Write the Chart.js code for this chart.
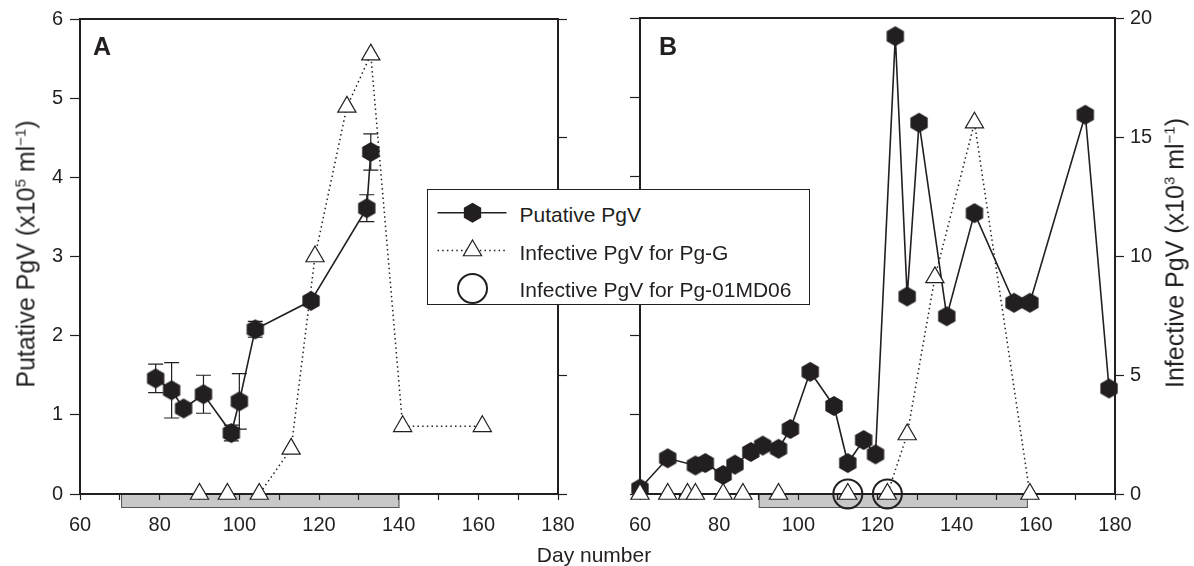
<!DOCTYPE html>
<html lang="en">
<head>
<meta charset="utf-8">
<title>Putative and infective PgV</title>
<script src="https://cdn.jsdelivr.net/npm/chart.js@4.4.1/dist/chart.umd.min.js"></script>
<style>
  body { margin: 0; background: #fff; }
  #figure {
    position: relative; width: 1194px; height: 566px; overflow: hidden;
    font-family: Arial, "Liberation Sans", Helvetica, sans-serif; color: #231f20;
  }
  #figure canvas { position: absolute; top: 0; }
  #panelA { left: 0; }
  #panelB { left: 600px; }
  .label { position: absolute; white-space: nowrap; line-height: 1; }
  .tag { top: 34px; font-size: 25px; font-weight: bold; }
  .axis-title { font-size: 25px; transform: translate(-50%, -50%) rotate(-90deg); }
  .label sup { font-size: 15px; line-height: 0; vertical-align: 9px; }
  #dayTitle { left: 594px; top: 544px; font-size: 21px; transform: translateX(-50%); }
  #legend {
    position: absolute; left: 427px; top: 189px; width: 381px; height: 114px;
    border: 1.5px solid #231f20; background: #fff;
  }
  #legend svg { position: absolute; left: 0; top: 0; }
  #legend span { position: absolute; left: 91.5px; font-size: 21px; line-height: 32px; white-space: nowrap; }
</style>
</head>
<body>
<div id="figure">
  <canvas id="panelA" width="600" height="566"></canvas>
  <canvas id="panelB" width="594" height="566"></canvas>

  <div class="label tag" style="left:93px">A</div>
  <div class="label tag" style="left:659px">B</div>
  <div class="label axis-title" style="left:26px; top:254px">Putative PgV (x10<sup>5</sup> ml<sup>−1</sup>)</div>
  <div class="label axis-title" style="left:1175px; top:253px">Infective PgV (x10<sup>3</sup> ml<sup>−1</sup>)</div>
  <div class="label" id="dayTitle">Day number</div>

  <div id="legend">
    <svg width="90" height="114">
      <line x1="9.5" y1="22.8" x2="78.5" y2="22.8" stroke="#231f20" stroke-width="1.6"/>
      <polygon points="44.5,12.8 53.16,17.8 53.16,27.8 44.5,32.8 35.84,27.8 35.84,17.8" fill="#231f20"/>
      <line x1="9.5" y1="60.5" x2="78.5" y2="60.5" stroke="#231f20" stroke-width="1.5" stroke-dasharray="1.5 3.2"/>
      <polygon points="44.5,50 53.59,65.75 35.41,65.75" fill="#fff" stroke="#231f20" stroke-width="1.2"/>
      <circle cx="44.5" cy="98.5" r="14.5" fill="none" stroke="#231f20" stroke-width="2"/>
    </svg>
    <span style="top:8.9px">Putative PgV</span>
    <span style="top:46.9px">Infective PgV for Pg-G</span>
    <span style="top:83.5px">Infective PgV for Pg-01MD06</span>
  </div>
</div>

<script>
const INK = '#231f20';
const FONT = { family: 'Arial, "Liberation Sans", Helvetica, sans-serif', size: 20 };

// axes: day number, putative (x10^5 ml-1), infective (x10^3 ml-1)
const dayRange = [60, 180];
const putRange = [0, 6];
const infRange = [0, 20];

// panel A
const putDaysA = [79, 83, 86, 91, 98, 100, 104, 118, 132, 133];
const putA = [1.46, 1.31, 1.08, 1.26, 0.77, 1.17, 2.08, 2.44, 3.61, 4.32];
const putErrA = [0.18, 0.35, 0.05, 0.24, 0.1, 0.35, 0.1, 0.05, 0.17, 0.23];
const pgGDaysA = [90, 97, 105, 113, 119, 127, 133, 141, 161];
const pgGA = [0, 0, 0, 1.9, 10.0, 16.3, 18.5, 2.85, 2.85];
const barA = [70.3, 140.2];

// panel B
const putDaysB = [60, 67, 74, 76.5, 81, 84, 88, 91, 95, 98, 103, 109, 112.5, 116.5, 119.5,
                  124.5, 127.5, 130.5, 137.5, 144.5, 154.5, 158.5, 172.5, 178.5];
const putB = [0.07, 0.45, 0.36, 0.39, 0.24, 0.37, 0.53, 0.61, 0.57, 0.82, 1.54, 1.11, 0.39, 0.68, 0.50,
              5.77, 2.49, 4.68, 2.24, 3.54, 2.41, 2.41, 4.78, 1.33];
const pgGDaysB = [60, 67, 72, 74, 81, 86, 95, 112.5, 122.5, 127.5, 134.5, 144.5, 158.5];
const pgGB = [0, 0, 0, 0, 0, 0, 0, 0, 0, 2.5, 9.1, 15.6, 0];
const mdDaysB = [112.5, 122.5];
const mdB = [0, 0];
const barB = [90, 158];

const pts = (xs, ys) => xs.map((x, i) => ({ x, y: ys[i] }));

// filled pointy-top hexagon used as the putative PgV marker
function hexagon(r) {
  const c = document.createElement('canvas');
  const s = Math.ceil(r * 2 + 2);
  c.width = c.height = s;
  const g = c.getContext('2d');
  g.beginPath();
  for (let i = 0; i < 6; i++) {
    const a = Math.PI / 3 * i;
    g.lineTo(s / 2 + r * Math.sin(a), s / 2 - r * Math.cos(a));
  }
  g.closePath();
  g.fillStyle = INK;
  g.fill();
  return c;
}
const hex = hexagon(10);

// frame, grey sampling bar under the axis and error bars
const panelFrame = {
  id: 'panelFrame',
  beforeDraw(chart, args, opts) {
    const { ctx, chartArea: area, scales } = chart;
    const x0 = scales.x.getPixelForValue(opts.bar[0]);
    const x1 = scales.x.getPixelForValue(opts.bar[1]);
    ctx.save();
    ctx.fillStyle = '#c8c8c8';
    ctx.fillRect(x0, area.bottom, x1 - x0, 14);
    ctx.strokeStyle = '#555';
    ctx.lineWidth = 1;
    ctx.strokeRect(x0 + 0.5, area.bottom - 0.5, x1 - x0 - 1, 14);
    ctx.restore();
  },
  beforeDatasetsDraw(chart, args, opts) {
    const { ctx, chartArea: area, scales } = chart;
    ctx.save();
    ctx.strokeStyle = INK;
    ctx.lineWidth = 2;
    ctx.strokeRect(area.left, area.top, area.right - area.left, area.bottom - area.top);
    if (opts.errors) {
      const { datasetIndex, values } = opts.errors;
      const meta = chart.getDatasetMeta(datasetIndex);
      const data = chart.data.datasets[datasetIndex].data;
      ctx.lineWidth = 1.2;
      ctx.beginPath();
      meta.data.forEach((pt, i) => {
        const hi = scales.y.getPixelForValue(data[i].y + values[i]);
        const lo = scales.y.getPixelForValue(data[i].y - values[i]);
        ctx.moveTo(pt.x, hi); ctx.lineTo(pt.x, lo);
        ctx.moveTo(pt.x - 7.5, hi); ctx.lineTo(pt.x + 7.5, hi);
        ctx.moveTo(pt.x - 7.5, lo); ctx.lineTo(pt.x + 7.5, lo);
      });
      ctx.stroke();
    }
    ctx.restore();
  }
};

const tickGrid = len => ({ drawOnChartArea: false, tickLength: len, tickWidth: 1.2, tickColor: INK });

function putativeSet(days, vals) {
  return {
    label: 'Putative PgV', data: pts(days, vals), yAxisID: 'y',
    borderColor: INK, borderWidth: 1.6,
    pointStyle: hex, pointRadius: 10, pointHoverRadius: 10,
    clip: false, order: 2
  };
}
function pgGSet(days, vals) {
  return {
    label: 'Infective PgV for Pg-G', data: pts(days, vals), yAxisID: 'y2',
    borderColor: INK, borderWidth: 1.5, borderDash: [1.5, 3.2],
    pointStyle: 'triangle', pointRadius: 10.5, pointHoverRadius: 10.5,
    pointBackgroundColor: '#fff', pointBorderColor: INK, pointBorderWidth: 1.2,
    clip: false, order: 1
  };
}
function mdSet(days, vals) {
  return {
    label: 'Infective PgV for Pg-01MD06', data: pts(days, vals), yAxisID: 'y2',
    showLine: false, pointStyle: 'circle', pointRadius: 14.5, pointHoverRadius: 14.5,
    pointBackgroundColor: 'rgba(0,0,0,0)', pointBorderColor: INK, pointBorderWidth: 2,
    clip: false, order: 0
  };
}

function panelChart(id, datasets, cfg) {
  return new Chart(document.getElementById(id), {
    type: 'line',
    data: { datasets },
    options: {
      responsive: false,
      animation: false,
      devicePixelRatio: 1,
      layout: { padding: { top: 16 } },
      plugins: {
        legend: { display: false },
        tooltip: { enabled: false },
        panelFrame: { bar: cfg.bar, errors: cfg.errors }
      },
      scales: {
        x: {
          type: 'linear', min: dayRange[0], max: dayRange[1],
          afterFit: s => { s.height = 72; },
          border: { display: false },
          grid: tickGrid(6),
          ticks: {
            stepSize: 10, autoSkip: false, maxRotation: 0, font: FONT, color: INK, padding: 13,
            callback: v => (v % 20 === 0 ? v : '')
          }
        },
        y: {
          type: 'linear', position: 'left', min: putRange[0], max: putRange[1],
          afterFit: s => { s.width = cfg.leftW; },
          border: { display: false },
          grid: tickGrid(10),
          ticks: { stepSize: 1, display: cfg.leftLabels, font: FONT, color: INK, padding: 7 }
        },
        y2: {
          type: 'linear', position: 'right', min: infRange[0], max: infRange[1],
          afterFit: s => { s.width = cfg.rightW; },
          border: { display: false },
          grid: tickGrid(9),
          ticks: { stepSize: 5, display: cfg.rightLabels, font: FONT, color: INK, padding: 6 }
        }
      }
    },
    plugins: [panelFrame]
  });
}

panelChart('panelA', [putativeSet(putDaysA, putA), pgGSet(pgGDaysA, pgGA)], {
  bar: barA, errors: { datasetIndex: 0, values: putErrA },
  leftW: 80, rightW: 42, leftLabels: true, rightLabels: false
});

panelChart('panelB', [putativeSet(putDaysB, putB), pgGSet(pgGDaysB, pgGB), mdSet(mdDaysB, mdB)], {
  bar: barB, errors: null,
  leftW: 40, rightW: 79, leftLabels: false, rightLabels: true
});
</script>
</body>
</html>
